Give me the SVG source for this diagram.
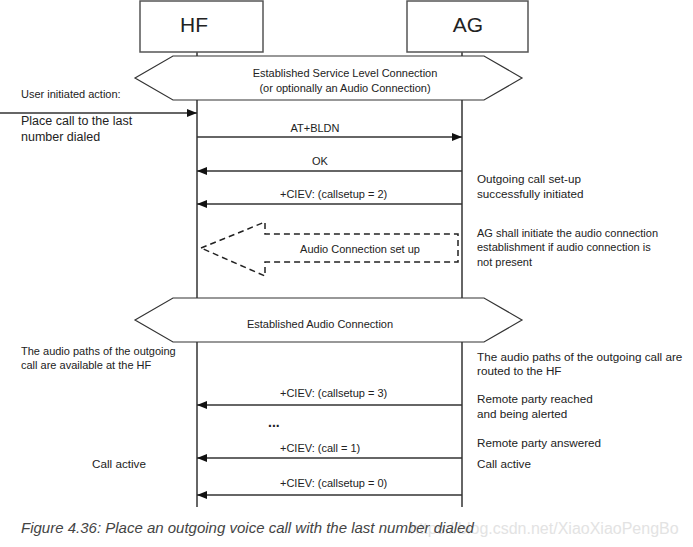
<svg xmlns="http://www.w3.org/2000/svg" width="693" height="547" viewBox="0 0 693 547">
<style>
  .box{fill:#fff;stroke:#555;stroke-width:1.5}
  .life{stroke:#333;stroke-width:1.5;fill:none}
  .msg{stroke:#333;stroke-width:1.3;fill:none}
  .hex{fill:#fff;stroke:#333;stroke-width:1.2}
  .t{font-family:"Liberation Sans",Arial,sans-serif;fill:#222}
  .big{font-size:21px}
  .lbl{font-size:11px}
  .s11{font-size:11px}
  .s117{font-size:11.7px}
  .s12{font-size:12.5px}
  .mid{text-anchor:middle}
</style>
<defs>
  <marker id="ah" markerWidth="10" markerHeight="8" refX="10" refY="4" orient="auto" markerUnits="userSpaceOnUse">
    <path d="M0,0 L10,4 L0,8 Z" fill="#111"/>
  </marker>
</defs>
<rect width="693" height="547" fill="#fff"/>

<g id="lifelines">
  <line class="life" x1="197" y1="52" x2="197" y2="507"/>
  <line class="life" x1="462" y1="52" x2="462" y2="507"/>
</g>

<g id="HF">
  <rect class="box" x="140" y="1" width="123" height="51"/>
  <text class="t big mid" x="194" y="32">HF</text>
</g>
<g id="AG">
  <rect class="box" x="407" y="1" width="121" height="51"/>
  <text class="t big mid" x="468" y="32">AG</text>
</g>

<g id="slc">
  <polygon class="hex" points="135,78 173,56 484,56 522,78 484,100 173,100"/>
  <text class="t lbl mid" x="345" y="77">Established Service Level Connection</text>
  <text class="t lbl mid" x="345" y="92">(or optionally an Audio Connection)</text>
</g>

<g id="audio-conn">
  <polygon class="hex" points="135,320 173,298 484,298 522,320 484,342 173,342"/>
  <text class="t lbl mid" x="320" y="328">Established Audio Connection</text>
</g>

<g id="audio-setup">
  <polygon points="201,248 265,222 265,234 458,234 458,262 265,262 265,276" fill="#fff" stroke="#222" stroke-width="1.5" stroke-dasharray="6,4"/>
  <text class="t lbl mid" x="360" y="253">Audio Connection set up</text>
</g>

<g id="connectors">
  <line class="msg" x1="0" y1="113" x2="197" y2="113" marker-end="url(#ah)"/>
  <line class="msg" x1="197" y1="137" x2="462" y2="137" marker-end="url(#ah)"/>
  <line class="msg" x1="462" y1="171" x2="197" y2="171" marker-end="url(#ah)"/>
  <line class="msg" x1="462" y1="204" x2="197" y2="204" marker-end="url(#ah)"/>
  <line class="msg" x1="462" y1="405" x2="197" y2="405" marker-end="url(#ah)"/>
  <line class="msg" x1="462" y1="458" x2="197" y2="458" marker-end="url(#ah)"/>
  <line class="msg" x1="462" y1="495" x2="197" y2="495" marker-end="url(#ah)"/>
</g>

<g id="labels">
  <text class="t lbl mid" x="315" y="132">AT+BLDN</text>
  <text class="t lbl mid" x="320" y="165">OK</text>
  <text class="t lbl" x="280" y="198">+CIEV: (callsetup = 2)</text>
  <text class="t lbl" x="280" y="397">+CIEV: (callsetup = 3)</text>
  <text class="t" x="268" y="427" font-size="14" font-weight="bold">...</text>
  <text class="t lbl" x="280" y="452">+CIEV: (call = 1)</text>
  <text class="t lbl" x="280" y="487">+CIEV: (callsetup = 0)</text>
</g>

<g id="left-notes">
  <text class="t s11" x="21" y="98">User initiated action:</text>
  <text class="t s12" x="21" y="125">Place call to the last</text>
  <text class="t s12" x="21" y="141">number dialed</text>
  <text class="t s11" x="21" y="355">The audio paths of the outgoing</text>
  <text class="t s11" x="21" y="369">call are available at the HF</text>
  <text class="t s117" x="92" y="468">Call active</text>
</g>

<g id="right-notes">
  <text class="t s117" x="477" y="183">Outgoing call set-up</text>
  <text class="t s117" x="477" y="198">successfully initiated</text>
  <text class="t s11" x="477" y="237">AG shall initiate the audio connection</text>
  <text class="t s11" x="477" y="251">establishment if audio connection is</text>
  <text class="t s11" x="477" y="266">not present</text>
  <text class="t s117" x="477" y="361">The audio paths of the outgoing call are</text>
  <text class="t s117" x="477" y="375">routed to the HF</text>
  <text class="t s117" x="477" y="403">Remote party reached</text>
  <text class="t s117" x="477" y="418">and being alerted</text>
  <text class="t s117" x="477" y="447">Remote party answered</text>
  <text class="t s117" x="477" y="468">Call active</text>
</g>

<text x="410" y="534" font-family="Liberation Sans,Arial,sans-serif" font-size="16" fill="#e3e3e3">https://blog.csdn.net/XiaoXiaoPengBo</text>
<text x="21" y="533" font-family="Liberation Sans,Arial,sans-serif" font-size="15" font-style="italic" fill="#444">Figure 4.36: Place an outgoing voice call with the last number dialed</text>
</svg>
